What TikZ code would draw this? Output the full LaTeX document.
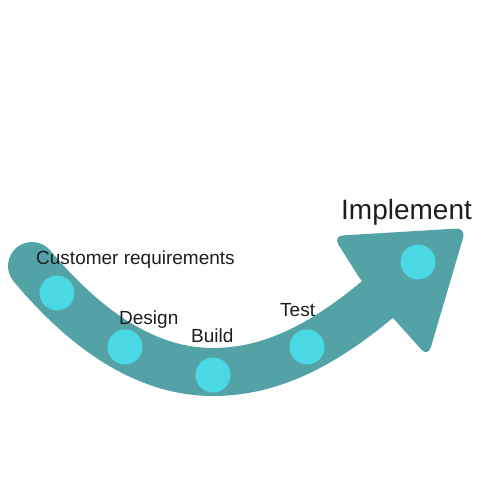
\documentclass[tikz,border=0pt]{standalone}
\usepackage{fontspec}
\setmainfont{Liberation Sans}
\usepackage{xcolor}

\definecolor{shaftteal}{RGB}{83,163,166}
\definecolor{dotcyan}{RGB}{73,216,228}
\definecolor{labelgray}{RGB}{30,30,30}

\tikzset{
  stage/.style={circle, fill=dotcyan, minimum size=35pt, inner sep=0pt},
  steplabel/.style={anchor=base west, inner sep=0pt, text=labelgray, font=\fontsize{19}{23}\selectfont},
  biglabel/.style={anchor=base west, inner sep=0pt, text=labelgray, font=\fontsize{28}{33}\selectfont}
}

\begin{document}
\begin{tikzpicture}[x=1pt, y=-1pt]
        \useasboundingbox (0,0) rectangle (500,500);

                % Shaft
                \coordinate (tail) at (32, 266);
                \coordinate (low) at (213, 372);
                \coordinate (neck) at (384, 294);
                \draw[shaftteal, line width=48pt, line cap=round]
                    (tail) .. controls (90, 335) and (150, 372) .. (low)
                           .. controls (276, 372) and (330, 340) .. (neck);

                % Head
                \fill[shaftteal, rounded corners=10pt]
                    (362, 282) -- (333, 236) -- (466, 228) -- (428, 357) -- (393, 318) -- cycle;

                % Nodes
                \node[stage] (req) at (57, 293) {};
                \node[stage] (design) at (125, 347) {};
                \node[stage] (build) at (213, 375) {};
                \node[stage] (test) at (307, 347) {};
                \node[stage] (impl) at (418, 262) {};

                % Labels
                \node[steplabel] (reqtext) at (36, 264) {Customer requirements};
                \node[steplabel] (designtext) at (119, 324) {Design};
                \node[steplabel] (buildtext) at (191, 342) {Build};
                \node[steplabel] (testtext) at (280, 316) {Test};
                \node[biglabel] (impltext) at (341, 219) {Implement};

            \end{tikzpicture}
\end{document}
